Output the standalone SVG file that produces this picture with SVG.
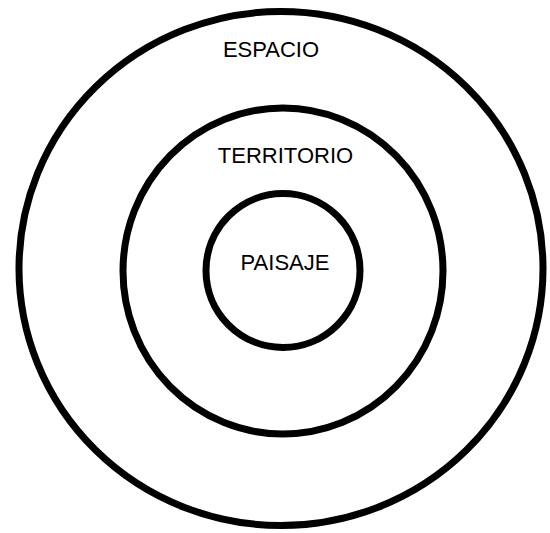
<svg xmlns="http://www.w3.org/2000/svg" width="550" height="533" viewBox="0 0 550 533">
<style>
.ring{fill:none;stroke:#000;stroke-width:7;stroke-linecap:round;stroke-linejoin:round}
.lbl{font-family:"Liberation Sans",Arial,sans-serif;font-size:22px;fill:#000;text-anchor:middle}
</style>
<rect width="550" height="533" fill="#fff"/>
<g id="espacio">
<ellipse class="ring" cx="281" cy="268.5" rx="262" ry="257"/>
<text class="lbl" x="271" y="57">ESPACIO</text>
</g>
<g id="territorio">
<ellipse class="ring" cx="283" cy="271" rx="160" ry="163"/>
<text class="lbl" x="285.5" y="163">TERRITORIO</text>
</g>
<g id="paisaje">
<ellipse class="ring" cx="283" cy="270.5" rx="77" ry="77"/>
<text class="lbl" x="285" y="270">PAISAJE</text>
</g>
<g id="connectors"></g>
</svg>
